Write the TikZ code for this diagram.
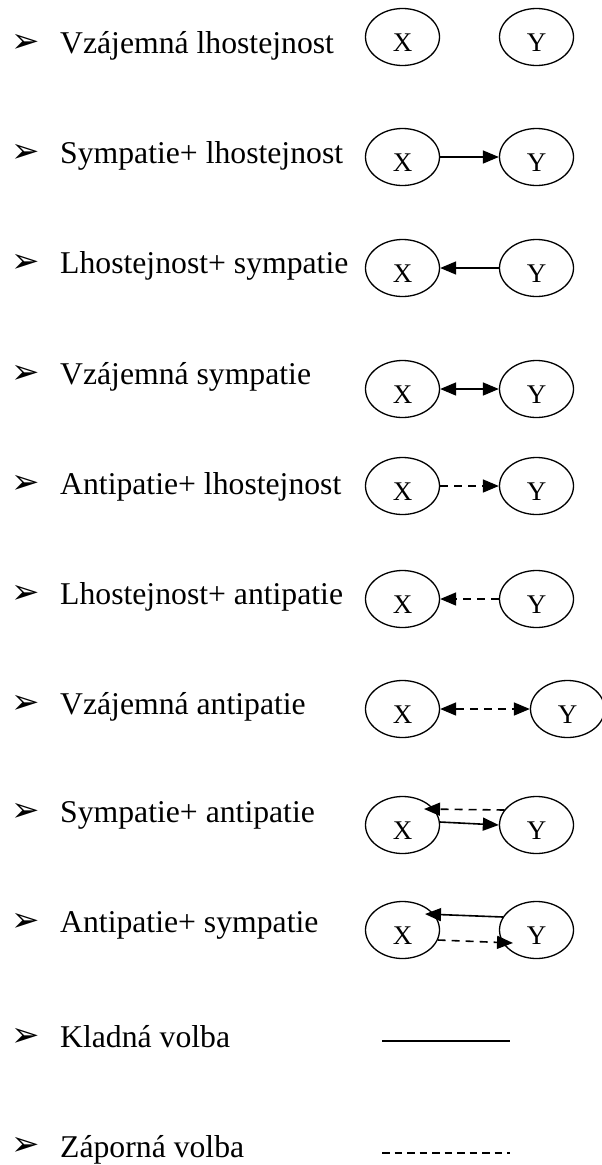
\documentclass[tikz,border=0pt]{standalone}
\usepackage{fontspec}
\setmainfont{Liberation Serif}
\newfontfamily\bulletfont{DejaVu Sans}
\usetikzlibrary{shapes.geometric,arrows.meta,calc}
\begin{document}
\begin{tikzpicture}[x=1pt,y=-1pt,
  person/.style={draw, ellipse, line width=1.3pt, minimum width=74pt, minimum height=57pt,
    inner sep=0pt, font=\fontsize{27}{27}\selectfont, text height=28pt, text depth=0pt},
  lbl/.style={anchor=base west, inner sep=0pt, font=\fontsize{31.7}{31.7}\selectfont},
  bul/.style={anchor=west, inner sep=0pt, font=\bulletfont\fontsize{34}{34}\selectfont},
  link/.style={line width=1.6pt},
  tip/.style={-{Triangle[length=16pt,width=13pt]}},
  tips/.style={{Triangle[length=16pt,width=13pt]}-{Triangle[length=16pt,width=13pt]}},
  neg/.style={dash pattern=on 8pt off 6pt},
]
\useasboundingbox (0,0) rectangle (602,1165);

% bullets and labels
\node[bul] (b1) at (11,43) {➢};   \node[lbl] (t1) at (60,53) {Vzájemná lhostejnost};
\node[bul] (b2) at (11,153) {➢};  \node[lbl] (t2) at (60,163) {Sympatie+ lhostejnost};
\node[bul] (b3) at (11,263) {➢};  \node[lbl] (t3) at (60,273) {Lhostejnost+ sympatie};
\node[bul] (b4) at (11,374) {➢};  \node[lbl] (t4) at (60,384) {Vzájemná sympatie};
\node[bul] (b5) at (11,484) {➢};  \node[lbl] (t5) at (60,494) {Antipatie+ lhostejnost};
\node[bul] (b6) at (11,594) {➢};  \node[lbl] (t6) at (60,604) {Lhostejnost+ antipatie};
\node[bul] (b7) at (11,704) {➢};  \node[lbl] (t7) at (60,714) {Vzájemná antipatie};
\node[bul] (b8) at (11,812) {➢};  \node[lbl] (t8) at (60,822) {Sympatie+ antipatie};
\node[bul] (b9) at (11,922) {➢};  \node[lbl] (t9) at (60,932) {Antipatie+ sympatie};
\node[bul] (b10) at (11,1037) {➢}; \node[lbl] (t10) at (60,1047) {Kladná volba};
\node[bul] (b11) at (11,1146) {➢}; \node[lbl] (t11) at (60,1157) {Záporná volba};

% ellipses
\node[person] (x1) at (402.5,37) {X};  \node[person] (y1) at (536.5,37) {Y};
\node[person] (x2) at (402.5,157) {X}; \node[person] (y2) at (536.5,157) {Y};
\node[person] (x3) at (402.5,268) {X}; \node[person] (y3) at (536.5,268) {Y};
\node[person] (x4) at (402.5,389) {X}; \node[person] (y4) at (536.5,389) {Y};
\node[person] (x5) at (402.5,486) {X}; \node[person] (y5) at (536.5,486) {Y};
\node[person] (x6) at (402.5,599) {X}; \node[person] (y6) at (536.5,599) {Y};
\node[person] (x7) at (402.5,709) {X}; \node[person] (y7) at (567.5,709) {Y};
\node[person] (x8) at (402.5,825) {X}; \node[person] (y8) at (536.5,825) {Y};
\node[person] (x9) at (402.5,930) {X}; \node[person] (y9) at (536.5,930) {Y};

% connectors
\draw[link,tip] (x2) -- (y2);
\draw[link,tip] (y3) -- (x3);
\draw[link,tips] (x4) -- (y4);
\draw[link,neg,tip] (x5) -- (y5);
\draw[link,neg,tip] (y6) -- (x6);
\draw[link,neg,tips] (x7) -- (y7);
\draw[link,neg,tip] ($(y8.center)+(-32,-15)$) -- ($(x8.center)+(21.5,-16)$);
\draw[link,tip] ($(x8.center)+(37.3,-3)$) -- (y8.west);
\draw[link,tip] ($(y9.center)+(-33.5,-13)$) -- ($(x9.center)+(22.5,-16)$);
\draw[link,neg,tip] ($(x9.center)+(35.2,10)$) -- ($(y9.center)+(-23.5,13)$);

% legend
\coordinate (k1) at (382,1041); \coordinate (k2) at (510,1041);
\coordinate (z1) at (382,1153); \coordinate (z2) at (510,1153);
\draw[line width=1.8pt] (k1) -- (k2);
\draw[line width=1.8pt, dash pattern=on 7.5pt off 5pt] (z1) -- (z2);
\end{tikzpicture}
\end{document}
